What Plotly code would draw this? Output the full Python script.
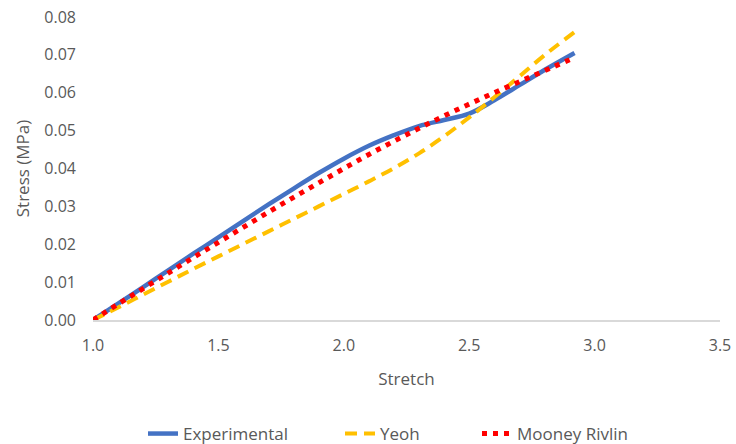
import plotly.graph_objects as go

stretch = [1.0, 1.1, 1.2, 1.3, 1.4, 1.5, 1.6, 1.7, 1.8, 1.9, 2.0, 2.1, 2.2, 2.3, 2.4, 2.5, 2.6, 2.7, 2.8, 2.92]
experimental = [0, 0.0043, 0.0087, 0.0131, 0.0175, 0.0218, 0.0262, 0.0305, 0.0347, 0.0388, 0.0426,
                0.0460, 0.0488, 0.0512, 0.0528, 0.0545, 0.0580, 0.0620, 0.0660, 0.0705]
yeoh = [0, 0.0033, 0.0067, 0.0101, 0.0135, 0.0168, 0.0201, 0.0234, 0.0267, 0.0300, 0.0333,
        0.0366, 0.0401, 0.0440, 0.0485, 0.0535, 0.0588, 0.0643, 0.0699, 0.0760]
mooney_rivlin = [0, 0.0042, 0.0083, 0.0124, 0.0165, 0.0205, 0.0245, 0.0285, 0.0324, 0.0362, 0.0400,
                 0.0437, 0.0472, 0.0506, 0.0539, 0.0570, 0.0600, 0.0629, 0.0658, 0.0693]

x_ticks = [1.0, 1.5, 2.0, 2.5, 3.0, 3.5]
y_ticks = [0, 0.01, 0.02, 0.03, 0.04, 0.05, 0.06, 0.07, 0.08]

font = "Open Sans"
grey = "#595959"

fig = go.Figure()
fig.add_trace(go.Scatter(x=stretch, y=experimental, mode="lines", name="Experimental", legend="legend",
                         line=dict(color="#4472C4", width=4.5, shape="spline")))
fig.add_trace(go.Scatter(x=stretch, y=yeoh, mode="lines", name="Yeoh", legend="legend2",
                         line=dict(color="#FFC000", width=4, dash="12px,7px", shape="spline")))
fig.add_trace(go.Scatter(x=stretch, y=mooney_rivlin, mode="lines", name="Mooney Rivlin", legend="legend3",
                         line=dict(color="#FF0000", width=5, dash="5px,6px", shape="spline")))

leg_common = dict(orientation="h", xref="container", yref="container", xanchor="left",
                  y=1 - 434 / 444, yanchor="middle",
                  font=dict(family=font, size=17, color=grey), bgcolor="rgba(0,0,0,0)")

fig.update_layout(
    width=736, height=444,
    margin=dict(l=93, r=16, t=17, b=124, autoexpand=False),
    paper_bgcolor="white", plot_bgcolor="white",
    font=dict(family=font, size=15, color=grey),
    showlegend=True,
    legend=dict(x=143 / 736, **leg_common),
    legend2=dict(x=340 / 736, **leg_common),
    legend3=dict(x=477 / 736, **leg_common),
    xaxis=dict(range=[1.0, 3.5], tickvals=x_ticks, ticktext=[f"{v:.1f}" for v in x_ticks],
               showgrid=False, zeroline=False, showline=True, linecolor="#D9D9D9", linewidth=1.5,
               ticks="", ticklabelstandoff=10, automargin=False, tickfont=dict(size=16),
               title=dict(text="Stretch", font=dict(family=font, size=17, color=grey), standoff=18)),
    yaxis=dict(range=[0, 0.08], tickvals=y_ticks, ticktext=[f"{v:.2f}" for v in y_ticks],
               showgrid=False, zeroline=False, showline=False, ticks="", ticklabelstandoff=16,
               automargin=False, tickfont=dict(size=16),
               title=dict(text="Stress (MPa)", font=dict(family=font, size=17, color=grey), standoff=10)),
)

fig.write_html("out.html", config={"displayModeBar": False},
               post_script="document.body.style.margin='0';document.body.style.overflow='hidden';")
